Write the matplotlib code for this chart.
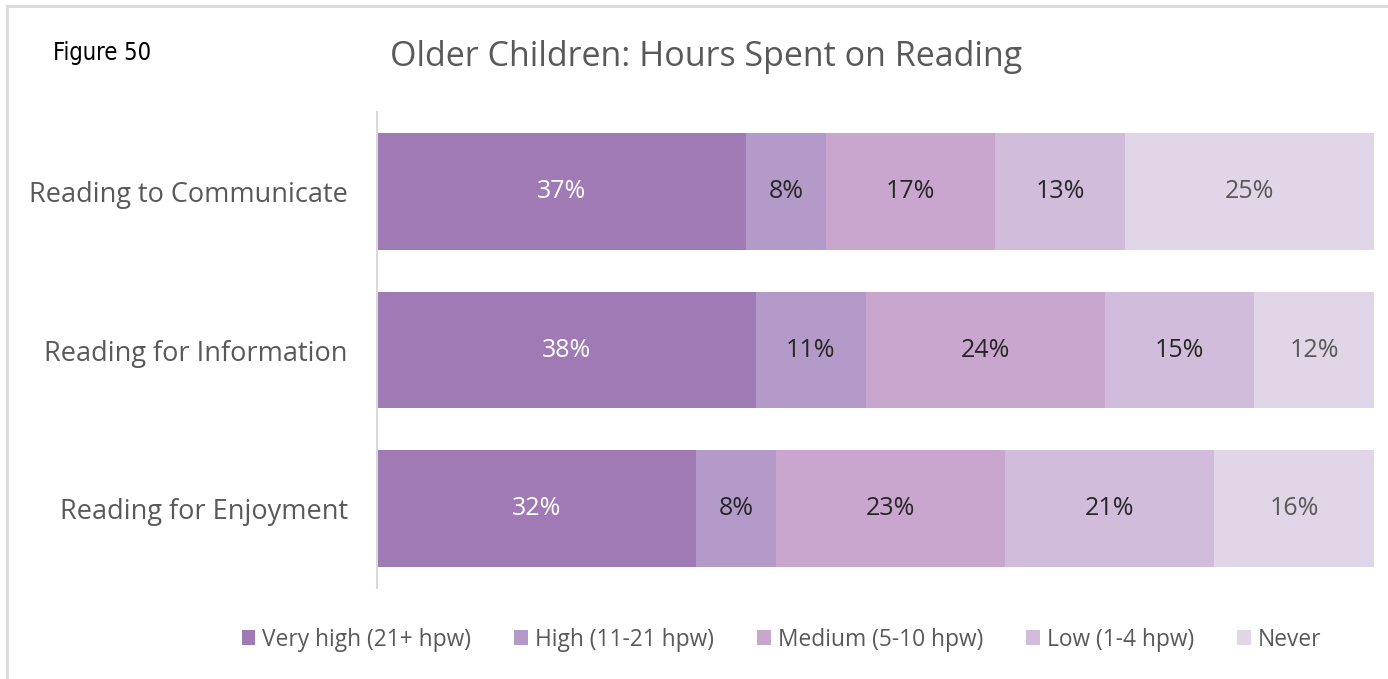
import matplotlib.pyplot as plt
from matplotlib.lines import Line2D
from matplotlib.patches import Patch

# Share of older children per reading activity, by hours per week
activities = ['Reading to Communicate', 'Reading for Information', 'Reading for Enjoyment']
levels = ['Very high (21+ hpw)', 'High (11-21 hpw)', 'Medium (5-10 hpw)', 'Low (1-4 hpw)', 'Never']
very_high = [37, 38, 32]
high = [8, 11, 8]
medium = [17, 24, 23]
low = [13, 15, 21]
never = [25, 12, 16]

series = [very_high, high, medium, low, never]
colors = ['#9F7AB5', '#B49AC8', '#C9A6CD', '#D2BCDB', '#E1D5E8']
label_colors = ['white', '#262626', '#262626', '#262626', '#595959']

plt.rcParams['font.family'] = ['Open Sans', 'DejaVu Sans']

fig = plt.figure(figsize=(13.88, 6.79), dpi=100)
ax = fig.add_axes([0.2716, 0.134, 0.7183, 0.701])

ypos = list(range(len(activities)))
left = [0] * len(activities)
for vals, col, tcol in zip(series, colors, label_colors):
    bars = ax.barh(ypos, vals, left=left, height=0.737, color=col, edgecolor='none')
    ax.bar_label(bars, labels=[f'{v}%' for v in vals], label_type='center',
                 color=tcol, fontsize=18)
    left = [a + b for a, b in zip(left, vals)]

ax.set_xlim(0, 100)
ax.set_ylim(2.5, -0.5)
ax.set_yticks(ypos)
ax.set_yticklabels(activities, fontsize=19.5, color='#595959')
ax.tick_params(axis='y', length=0, pad=21)
ax.set_xticks([])
for s in ['top', 'right', 'bottom']:
    ax.spines[s].set_visible(False)
ax.spines['left'].set_color('#D9D9D9')
ax.spines['left'].set_linewidth(1.5)

fig.text(0.509, 0.916, 'Older Children: Hours Spent on Reading', ha='center', va='center',
         fontsize=24.5, color='#595959')
fig.text(0.038, 0.922, 'Figure 50', ha='left', va='center', fontsize=17,
         color='black', family='DejaVu Sans', fontstretch='condensed')

handles = [Patch(facecolor=c, edgecolor='none') for c in colors]
fig.legend(handles, levels, loc='center', bbox_to_anchor=(0.563, 0.058), ncol=5,
           frameon=False, fontsize=16.4, labelcolor='#595959',
           handlelength=0.6, handleheight=0.6, handletextpad=0.3, columnspacing=1.9)

# thin frame along the top and left edges
fig.add_artist(Line2D([0.005, 1], [0.991, 0.991], color='#D9D9D9', linewidth=2))
fig.add_artist(Line2D([0.005, 0.005], [0, 0.991], color='#D9D9D9', linewidth=2))

fig.savefig('out.png', dpi=100, facecolor='white')
